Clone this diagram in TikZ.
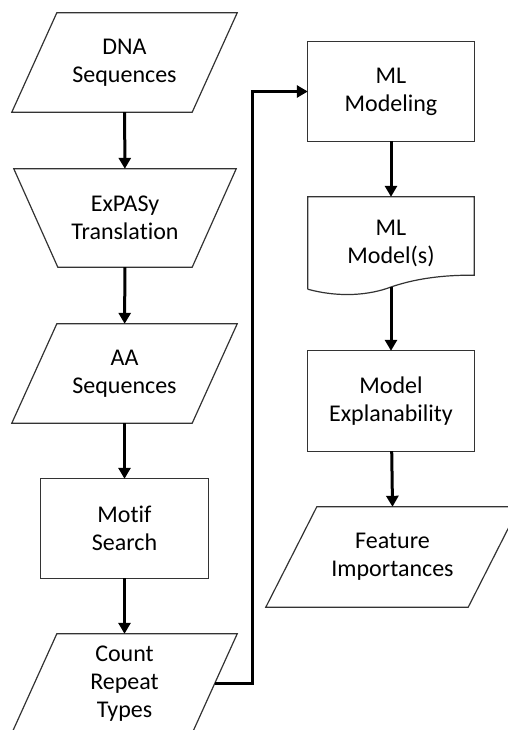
\documentclass[tikz,border=0pt]{standalone}
\usepackage{fontspec}
\setmainfont{Carlito}[Ligatures=NoCommon]
\usetikzlibrary{arrows.meta,calc}

\tikzset{
  lbl/.style={inner sep=0pt, align=center, font=\fontsize{24}{28}\selectfont},
  outline/.style={draw=black!80, line width=1.2pt, line join=miter},
  flow/.style={line width=3pt, -{Triangle[length=11pt,width=12pt]}},
}

\begin{document}
\begin{tikzpicture}[x=1pt, y=-1pt]
  \useasboundingbox (0,0) rectangle (507,730);

  % text boxes: the node bounds are the outer extent of each outline
  \node[lbl, minimum width=225pt, minimum height=99pt] (dna)    at (124.5,62.5)  {DNA\\Sequences};
  \node[lbl, minimum width=222pt, minimum height=98pt] (expasy) at (125,218)     {ExPASy\\Translation};
  \node[lbl, minimum width=225pt, minimum height=99pt] (aa)     at (124.5,373.5) {AA\\Sequences};
  \node[lbl, minimum width=167pt, minimum height=99pt] (motif)  at (124.5,528.5) {Motif\\Search};
  \node[lbl, minimum width=225pt, minimum height=99pt] (count)  at (124.5,683.5) {Count\\Repeat\\Types};

  \node[lbl, minimum width=166pt, minimum height=99pt]  (mlmod)  at (391,91.5)  {ML\\Modeling};
  \node[lbl, minimum width=166pt, minimum height=92pt]  (models) at (391,243)   {ML\\Model(s)};
  \node[lbl, minimum width=166pt, minimum height=100pt] (expl)   at (391,401)   {Model\\Explanability};
  \node[lbl, minimum width=253pt, minimum height=100pt] (feat)   at (392.5,557) {Feature\\Importances};

  % data (parallelogram) outlines
  \foreach \n/\s in {dna/45, aa/45, count/45, feat/51}{
    \draw[outline] ([xshift=\s pt]\n.north west) -- (\n.north east)
      -- ([xshift=-\s pt]\n.south east) -- (\n.south west) -- cycle;
  }

  % manual operation (trapezoid)
  \draw[outline] (expasy.north west) -- (expasy.north east)
    -- ([xshift=-44pt]expasy.south east) -- ([xshift=44pt]expasy.south west) -- cycle;

  % process rectangles
  \foreach \n in {motif, mlmod, expl}{
    \draw[outline] (\n.north west) rectangle (\n.south east);
  }

  % document shape with wavy lower edge
  \coordinate (wave) at (391,287);
  \draw[outline] (models.south west) -- (models.north west)
    -- (models.north east) -- ([yshift=14pt]models.south east)
    .. controls (450,275) and (420,277) .. (wave)
    .. controls (370,295) and (340,298) .. (models.south west);

  % connectors
  \draw[flow] (dna) -- (expasy);
  \draw[flow] (expasy) -- (aa);
  \draw[flow] (aa) -- (motif);
  \draw[flow] (motif) -- (count);
  \coordinate (countout) at ($(count.center)+(90,0)$);
  \coordinate (bend) at (252,683.5);
  \draw[flow, line join=miter] (countout) -- (bend) |- (mlmod.west);
  \draw[flow] (mlmod) -- (models.north);
  \draw[flow] (wave) -- (expl.north);
  \draw[flow] (expl) -- (feat.north);
\end{tikzpicture}
\end{document}
